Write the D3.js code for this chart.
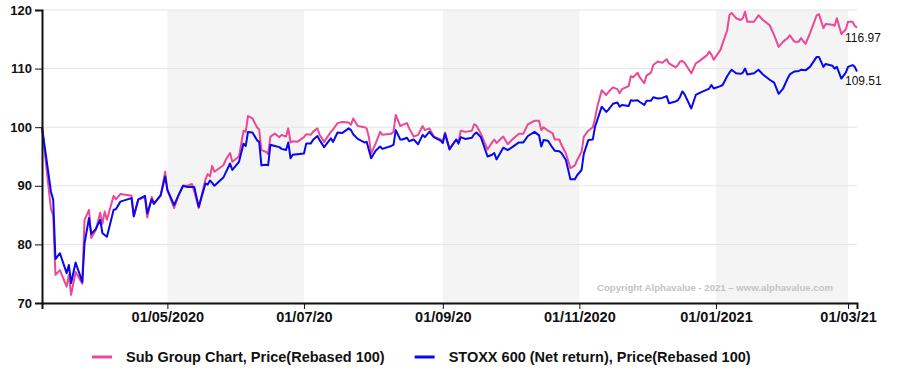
<!DOCTYPE html>
<html>
<head>
<meta charset="utf-8">
<script src="https://cdn.jsdelivr.net/npm/d3@7"></script>
<style>
  body { margin: 0; background: #fff; }
  svg { display: block; font-family: "Liberation Sans", Arial, sans-serif; }
</style>
</head>
<body>
<svg width="897" height="385"></svg>
<script>
// data
const dates = [
  "2020-03-06","2020-03-10","2020-03-11","2020-03-12","2020-03-14","2020-03-17","2020-03-18","2020-03-19","2020-03-21","2020-03-24",
  "2020-03-25","2020-03-27","2020-03-28","2020-03-30","2020-04-01","2020-04-02","2020-04-03","2020-04-04","2020-04-07","2020-04-08",
  "2020-04-10","2020-04-15","2020-04-16","2020-04-18","2020-04-21","2020-04-22","2020-04-24","2020-04-25","2020-04-28","2020-04-30",
  "2020-05-01","2020-05-04","2020-05-06","2020-05-08","2020-05-10","2020-05-12","2020-05-13","2020-05-15","2020-05-18","2020-05-19",
  "2020-05-20","2020-05-21","2020-05-22","2020-05-26","2020-05-27","2020-05-29","2020-05-30","2020-06-02","2020-06-04","2020-06-05",
  "2020-06-06","2020-06-08","2020-06-10","2020-06-11","2020-06-12","2020-06-14","2020-06-15","2020-06-16","2020-06-18","2020-06-20",
  "2020-06-21","2020-06-23","2020-06-24","2020-06-25","2020-06-26","2020-06-28","2020-07-01","2020-07-02","2020-07-04","2020-07-05",
  "2020-07-07","2020-07-08","2020-07-10","2020-07-13","2020-07-14","2020-07-16","2020-07-18","2020-07-21","2020-07-22","2020-07-23",
  "2020-07-25","2020-07-28","2020-07-29","2020-07-30","2020-07-31","2020-08-02","2020-08-04","2020-08-05","2020-08-09","2020-08-10",
  "2020-08-11","2020-08-13","2020-08-14","2020-08-16","2020-08-17","2020-08-19","2020-08-21","2020-08-23","2020-08-24","2020-08-26",
  "2020-08-28","2020-08-31","2020-09-01","2020-09-02","2020-09-04","2020-09-07","2020-09-08","2020-09-09","2020-09-11","2020-09-14",
  "2020-09-15","2020-09-16","2020-09-18","2020-09-21","2020-09-23","2020-09-24","2020-09-25","2020-09-28","2020-09-30","2020-10-02",
  "2020-10-05","2020-10-07","2020-10-09","2020-10-12","2020-10-14","2020-10-15","2020-10-16","2020-10-18","2020-10-20","2020-10-21",
  "2020-10-23","2020-10-24","2020-10-26","2020-10-28","2020-10-30","2020-10-31","2020-11-02","2020-11-03","2020-11-05","2020-11-07",
  "2020-11-08","2020-11-09","2020-11-11","2020-11-13","2020-11-14","2020-11-16","2020-11-18","2020-11-19","2020-11-20","2020-11-23",
  "2020-11-24","2020-11-25","2020-11-27","2020-11-28","2020-11-30","2020-12-01","2020-12-03","2020-12-04","2020-12-06","2020-12-08",
  "2020-12-10","2020-12-11","2020-12-14","2020-12-15","2020-12-16","2020-12-17","2020-12-18","2020-12-21","2020-12-23","2020-12-25",
  "2020-12-28","2020-12-29","2020-12-30","2020-12-31","2021-01-03","2021-01-04","2021-01-06","2021-01-07","2021-01-08","2021-01-10",
  "2021-01-12","2021-01-13","2021-01-14","2021-01-15","2021-01-18","2021-01-20","2021-01-22","2021-01-25","2021-01-27","2021-01-29",
  "2021-01-31","2021-02-02","2021-02-03","2021-02-05","2021-02-07","2021-02-08","2021-02-10","2021-02-12","2021-02-15","2021-02-16",
  "2021-02-18","2021-02-19","2021-02-22","2021-02-23","2021-02-24","2021-02-26","2021-02-28","2021-03-01","2021-03-03","2021-03-04",
  "2021-03-05"
];

const subGroup = [
  100, 86, 85, 74.8, 75.6, 72.8, 74.8, 71.4, 75.3, 73.3,
  84.2, 85.9, 81.1, 82.4, 85.4, 83.5, 85.6, 84.2, 88.3, 87.7,
  88.6, 88.3, 84.8, 87.6, 88.1, 84.6, 88.1, 87.0, 88.3, 92.4,
  89.3, 86.2, 88.4, 90.0, 90.0, 90.3, 89.0, 86.2, 91.1, 92.0,
  91.6, 93.4, 92.4, 93.5, 94.4, 95.6, 94.1, 95.0, 99.4, 99.2,
  101.9, 101.5, 100.0, 99.6, 96.1, 95.8, 95.4, 98.4, 98.9, 98.3,
  98.7, 98.4, 99.8, 97.4, 97.6, 97.5, 98.3, 98.8, 98.7, 99.2,
  99.8, 98.7, 97.5, 99.2, 99.6, 100.7, 100.9, 100.8, 100.4, 101.5,
  100.2, 100.0, 99.8, 98.3, 95.5, 97.2, 99.2, 98.7, 98.9, 99.2,
  102.1, 100.2, 100.4, 100.7, 99.8, 98.4, 98.7, 100.2, 99.5, 99.8,
  98.4, 97.9, 97.5, 99.1, 96.4, 97.9, 97.4, 99.4, 99.2, 99.4,
  100.5, 100.3, 98.9, 96.2, 97.4, 97.9, 97.3, 98.4, 97.1, 97.9,
  98.9, 98.9, 100.5, 101.1, 101.1, 99.5, 100.0, 99.4, 99.0, 97.9,
  97.9, 97.0, 95.5, 93.0, 93.5, 94.4, 95.8, 98.4, 99.4, 100.0,
  101.5, 103.5, 106.3, 105.5, 106.0, 106.8, 106.5, 105.8, 106.5, 107.0,
  108.7, 108.5, 109.3, 108.5, 107.5, 108.8, 109.3, 110.6, 111.2, 111.0,
  111.6, 110.9, 110.2, 110.6, 111.2, 111.3, 111.0, 109.2, 110.9, 111.4,
  112.3, 112.9, 112.4, 111.5, 113.2, 114.3, 116.5, 119.1, 119.5, 118.6,
  118.3, 118.6, 119.7, 118.0, 118.0, 119.1, 118.3, 117.4, 115.7, 113.7,
  114.6, 115.2, 115.7, 114.6, 114.6, 115.2, 114.2, 116.0, 119.1, 119.3,
  116.9, 117.6, 117.5, 117.3, 118.6, 115.9, 116.7, 118.0, 118.0, 117.3,
  116.97
];

const stoxx = [
  100, 89, 87.6, 77.5, 78.5, 75.1, 76.5, 73.4, 76.9, 73.6,
  80.2, 84.5, 81.8, 82.6, 84.2, 81.9, 81.6, 81.3, 85.9, 86.0,
  87.3, 87.9, 84.8, 87.7, 88.3, 85.3, 87.7, 86.9, 88.4, 91.6,
  89.3, 86.7, 88.4, 90.0, 89.8, 89.8, 89.8, 86.4, 90.4, 90.2,
  90.9, 90.5, 90.0, 91.4, 92.2, 93.8, 92.7, 94.1, 97.2, 96.8,
  99.2, 99.1, 97.8, 97.5, 93.5, 93.6, 93.5, 97.0, 96.8, 96.6,
  96.3, 96.1, 97.4, 94.7, 95.3, 95.4, 95.5, 97.2, 97.2, 97.8,
  98.5, 97.8, 96.6, 98.1, 97.5, 99.1, 99.0, 99.8, 99.5, 98.8,
  98.0, 97.4, 97.5, 96.1, 94.7, 96.0, 96.7, 96.3, 96.8, 97.0,
  99.5, 97.9, 97.9, 98.2, 97.6, 97.9, 97.1, 98.7, 98.3, 99.2,
  98.3, 97.7, 97.3, 98.9, 96.2, 97.9, 97.2, 98.3, 98.0, 98.2,
  98.8, 99.1, 98.3, 95.0, 95.3, 95.6, 94.5, 96.5, 96.1, 96.6,
  97.4, 97.4, 98.5, 99.2, 98.6, 96.7, 97.8, 97.7, 96.5, 96.0,
  95.9, 95.6, 94.4, 91.1, 91.1, 91.8, 92.7, 95.5, 97.8, 97.9,
  100.1, 101.2, 103.5, 102.6, 103.0, 104.0, 104.2, 103.5, 103.8, 103.6,
  104.6, 104.5, 104.6, 104.3, 103.8, 104.5, 104.5, 105.1, 104.9, 105.0,
  105.3, 104.1, 104.4, 104.6, 105.2, 106.1, 105.6, 103.2, 105.5, 105.9,
  106.4, 106.6, 107.2, 106.6, 107.0, 107.2, 108.7, 109.3, 109.8, 109.2,
  109.1, 109.3, 110.0, 109.0, 109.2, 109.8, 109.0, 108.1, 107.6, 105.7,
  106.6, 108.3, 109.0, 109.5, 109.6, 109.8, 109.7, 110.3, 112.0, 112.0,
  110.3, 110.8, 110.5, 110.0, 110.3, 108.3, 109.3, 110.3, 110.6, 110.3,
  109.51
];

const yTicks = [70, 80, 90, 100, 110, 120];
const xTickDates = ["2020-05-01", "2020-07-01", "2020-09-01", "2020-11-01", "2021-01-01", "2021-03-01"];
const xTickLabels = ["01/05/2020", "01/07/20", "01/09/20", "01/11/2020", "01/01/2021", "01/03/21"];
const shadeStart = ["2020-05-01", "2020-09-01", "2021-01-01"];
const shadeEnd = ["2020-07-01", "2020-11-01", "2021-03-01"];
const seriesNames = ["Sub Group Chart, Price(Rebased 100)", "STOXX 600 (Net return), Price(Rebased 100)"];
const seriesColors = ["#ec4893", "#0808f0"];
const copyright = "Copyright Alphavalue - 2021 \u2013 www.alphavalue.com";

const svg = d3.select('svg');
const parse = d3.timeParse('%Y-%m-%d');

const margin = {top: 10, left: 42};
const graphWidth = 815;
const graphHeight = 293;

const graph = svg.append('g')
  .attr('transform', `translate(${margin.left},${margin.top})`);

const x = d3.scaleTime()
  .domain([parse(dates[0]), parse(dates[dates.length - 1])])
  .range([0, graphWidth]);

const y = d3.scaleLinear()
  .domain([70, 120])
  .range([graphHeight, 0]);

// grey bands every other two months
graph.selectAll('rect.band')
  .data(shadeStart.map((s, i) => [parse(s), parse(shadeEnd[i])]))
  .enter().append('rect')
  .attr('class', 'band')
  .attr('x', d => x(d[0]))
  .attr('width', d => x(d[1]) - x(d[0]))
  .attr('y', 0)
  .attr('height', graphHeight)
  .attr('fill', '#f4f4f4');

// horizontal grid
graph.selectAll('line.grid')
  .data(yTicks)
  .enter().append('line')
  .attr('class', 'grid')
  .attr('x1', 0)
  .attr('x2', graphWidth)
  .attr('y1', d => y(d))
  .attr('y2', d => y(d))
  .attr('stroke', '#e4e4e4')
  .attr('stroke-width', 1);

// copyright
graph.append('text')
  .attr('x', x(parse(xTickDates[5])) - 15)
  .attr('y', y(70) - 12)
  .attr('text-anchor', 'end')
  .attr('font-size', 9.6)
  .attr('font-weight', 'bold')
  .attr('fill', '#c4c4c4')
  .text(copyright);

// lines
const series = [subGroup, stoxx];
const line = d3.line()
  .x((d, i) => x(parse(dates[i])))
  .y(d => y(d));

series.forEach((vals, k) => {
  graph.append('path')
    .datum(vals)
    .attr('fill', 'none')
    .attr('stroke', seriesColors[k])
    .attr('stroke-width', 2)
    .attr('stroke-linejoin', 'round')
    .attr('d', line);

  // last value label
  const last = vals[vals.length - 1];
  graph.append('text')
    .attr('x', x(parse(dates[dates.length - 1])) - 12)
    .attr('y', y(last) + 14)
    .attr('font-size', 12)
    .attr('fill', '#111')
    .text(last.toFixed(2));
});

// axes
const yAxisGroup = graph.append('g');
const xAxisGroup = graph.append('g')
  .attr('transform', `translate(0, ${graphHeight})`);

const yAxis = d3.axisLeft(y)
  .tickValues(yTicks)
  .tickSizeOuter(0)
  .tickSize(7)
  .tickPadding(3);

const xAxis = d3.axisBottom(x)
  .tickValues(xTickDates.map(parse))
  .tickFormat((d, i) => xTickLabels[i])
  .tickSizeOuter(0)
  .tickSize(6)
  .tickPadding(3);

yAxisGroup.call(yAxis);
xAxisGroup.call(xAxis);

[yAxisGroup, xAxisGroup].forEach(g => {
  g.select('.domain').attr('stroke', '#111').attr('stroke-width', 2);
  g.selectAll('.tick line').attr('stroke', '#111');
  g.selectAll('.tick text')
    .attr('font-family', '"Liberation Sans", Arial, sans-serif')
    .attr('font-weight', 'bold')
    .attr('fill', '#111');
});
yAxisGroup.selectAll('.tick text').attr('font-size', 13);
xAxisGroup.selectAll('.tick text').attr('font-size', 14.5);

// legend
const legend = svg.append('g')
  .attr('transform', 'translate(92, 357)');

let offset = 0;
seriesNames.forEach((name, k) => {
  const item = legend.append('g').attr('transform', `translate(${offset},0)`);
  item.append('line')
    .attr('x1', 0).attr('x2', 20)
    .attr('stroke', seriesColors[k])
    .attr('stroke-width', 3);
  const t = item.append('text')
    .attr('x', 34)
    .attr('y', 5)
    .attr('font-size', 14.5)
    .attr('font-weight', 'bold')
    .attr('fill', '#111')
    .text(name);
  offset += 34 + t.node().getComputedTextLength() + 30;
});
</script>
</body>
</html>
